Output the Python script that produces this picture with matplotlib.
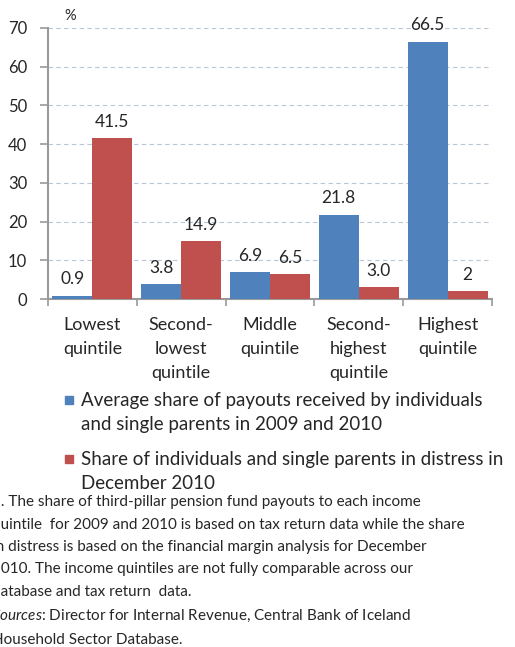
import numpy as np
import matplotlib.pyplot as plt
from matplotlib.patches import Rectangle

plt.rcParams['font.family'] = ['Lato', 'DejaVu Sans']
plt.rcParams['mathtext.fontset'] = 'custom'
plt.rcParams['mathtext.it'] = 'Lato:italic'
plt.rcParams['mathtext.rm'] = 'Lato'

categories = ['Lowest\nquintile', 'Second-\nlowest\nquintile', 'Middle\nquintile',
              'Second-\nhighest\nquintile', 'Highest\nquintile']
payouts = [0.9, 3.8, 6.9, 21.8, 66.5]
distress = [41.5, 14.9, 6.5, 3.0, 2]
payout_labels = ['0.9', '3.8', '6.9', '21.8', '66.5']
distress_labels = ['41.5', '14.9', '6.5', '3.0', '2']
series_names = ['Average share of payouts received by individuals\nand single parents in 2009 and 2010',
                'Share of individuals and single parents in distress in\nDecember 2010']
note = ('1. The share of third-pillar pension fund payouts to each income\n'
        'quintile  for 2009 and 2010 is based on tax return data while the share\n'
        'in distress is based on the financial margin analysis for December\n'
        '2010. The income quintiles are not fully comparable across our\n'
        'database and tax return  data.\n'
        r'$\it{Sources}$: Director for Internal Revenue, Central Bank of Iceland' '\n'
        'Household Sector Database.')

blue = '#4F81BD'
red = '#C0504D'
txt = '#262626'

W, H = 515, 647
fig = plt.figure(figsize=(W / 100, H / 100), dpi=100)
ax = fig.add_axes([48 / W, 1 - 299 / H, 444 / W, 271 / H])

x = np.arange(len(categories))
bw = 0.45
b1 = ax.bar(x - bw / 2, payouts, bw, color=blue, zorder=3)
b2 = ax.bar(x + bw / 2, distress, bw, color=red, zorder=3)

for bars, labs in ((b1, payout_labels), (b2, distress_labels)):
    for r, lab in zip(bars, labs):
        ax.annotate(lab, (r.get_x() + r.get_width() / 2, r.get_height()),
                    xytext=(0, 6), textcoords='offset points',
                    ha='center', va='bottom', fontsize=12.5, color=txt)

ax.set_xlim(-0.5, len(categories) - 0.5)
ax.set_ylim(0, 70)
ax.set_yticks(range(0, 71, 10))
ax.yaxis.grid(True, linestyle=(0, (4, 3)), color='#b9c6d6', linewidth=0.8, zorder=0)
ax.set_axisbelow(True)

# boundaries between quintiles get the tick marks, names sit in the middle
ax.set_xticks(np.arange(-0.5, len(categories), 1.0))
ax.set_xticklabels([])
ax.set_xticks(x, minor=True)
ax.set_xticklabels(categories, minor=True, fontsize=13, color=txt, linespacing=1.62)
ax.tick_params(axis='x', which='minor', length=0, pad=13)
ax.tick_params(axis='x', which='major', length=5, color='#9a9a9a', width=1.2)
ax.tick_params(axis='y', length=6, color='#9a9a9a', width=1.2, labelsize=12,
               labelcolor=txt, pad=9)

for s in ('top', 'right'):
    ax.spines[s].set_visible(False)
for s in ('left', 'bottom'):
    ax.spines[s].set_color('#9a9a9a')
    ax.spines[s].set_linewidth(1.5)

fig.text(70 / W, 1 - 16 / H, '%', fontsize=10.5, color=txt, ha='center', va='center')

# legend drawn by hand so the swatch lines up with the first text line
for i, (name, col) in enumerate(zip(series_names, [blue, red])):
    ytop = 400 + i * 59
    fig.patches.append(Rectangle((65 / W, 1 - (ytop + 4) / H), 8 / W, 8 / H,
                                 transform=fig.transFigure, color=col))
    fig.text(81 / W, 1 - (ytop + 12.5) / H, name, fontsize=13.5, color=txt,
             ha='left', va='center', linespacing=1.52)

fig.text(-8 / W, 1 - 571 / H, note, fontsize=11, color=txt, ha='left', va='center',
         linespacing=1.76)

fig.savefig('out.png', dpi=100)
